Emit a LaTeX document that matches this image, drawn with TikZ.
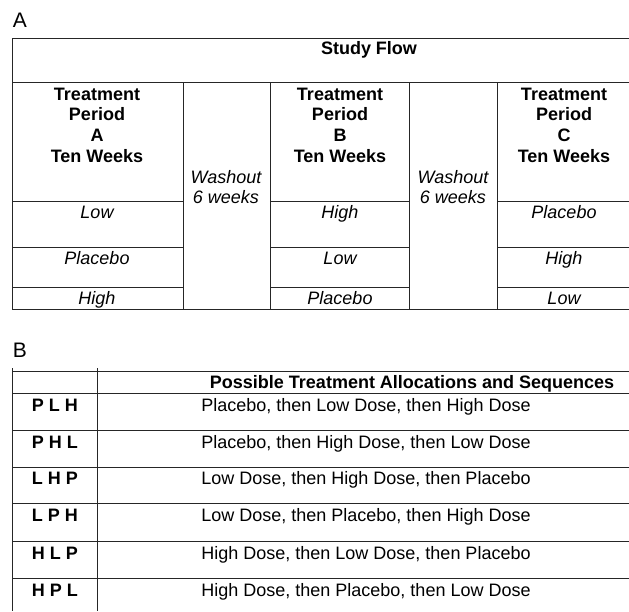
\documentclass[tikz,border=0pt]{standalone}
\usepackage{fontspec}
\setmainfont{Liberation Sans}
\begin{document}
\begin{tikzpicture}[x=1pt,y=-1pt]
\tikzset{rule/.style = {line width=1pt,black!85}}
\tikzset{txt/.style = {inner sep=0pt,align=center,font=\fontsize{18}{20.7}\selectfont}}
\tikzset{one/.style = {text height=15pt,text depth=2pt}}
\tikzset{head/.style = {txt,font=\fontsize{18}{20.7}\selectfont\bfseries}}
\tikzset{dose/.style = {txt,font=\fontsize{18}{20.7}\selectfont\itshape}}
\useasboundingbox (0,0) rectangle (629,611);
% panel A
\node[txt,one,font=\fontsize{21}{24}\selectfont](lbla) at (20, 21) {A};
\draw[rule] (12,38) -- (629,38) (12,82) -- (629,82) (12,309) -- (629,309);
\draw[rule] (12,38) -- (12,309);
\draw[rule] (183,82) -- (183,309) (270,82) -- (270,309);
\draw[rule] (409,82) -- (409,309) (497,82) -- (497,309);
\draw[rule] (12,201) -- (183,201) (12,247) -- (183,247) (12,287) -- (183,287);
\draw[rule] (270,201) -- (409,201) (270,247) -- (409,247) (270,287) -- (409,287);
\draw[rule] (497,201) -- (629,201) (497,247) -- (629,247) (497,287) -- (629,287);
\node[head,one](flow) at (369, 48) {Study Flow};
\node[head](pera) at (97, 125) {Treatment\\Period\\A\\Ten Weeks};
\node[head](perb) at (340, 125) {Treatment\\Period\\B\\Ten Weeks};
\node[head](perc) at (564, 125) {Treatment\\Period\\C\\Ten Weeks};
\node[dose](washa) at (226, 187) {Washout\\6 weeks};
\node[dose](washb) at (453, 187) {Washout\\6 weeks};
\node[dose,one](alow) at (97, 212) {Low};
\node[dose,one](aplac) at (97, 258) {Placebo};
\node[dose,one](ahigh) at (97, 298) {High};
\node[dose,one](bhigh) at (340, 212) {High};
\node[dose,one](blow) at (340, 258) {Low};
\node[dose,one](bplac) at (340, 298) {Placebo};
\node[dose,one](cplac) at (564, 212) {Placebo};
\node[dose,one](chigh) at (564, 258) {High};
\node[dose,one](clow) at (564, 298) {Low};
% panel B
\node[txt,one,font=\fontsize{21}{24}\selectfont](lblb) at (20, 351) {B};
\draw[rule] (12,368) -- (12,611) (97,368) -- (97,611);
\draw[rule] (12,371) -- (629,371) (12,393) -- (629,393);
\draw[rule] (12,430) -- (629,430) (12,467) -- (629,467) (12,503) -- (629,503);
\draw[rule] (12,541) -- (629,541) (12,578) -- (629,578);
\node[head,one](alloc) at (412, 382) {Possible Treatment Allocations and Sequences};
\node[head,one](plh) at (55, 405) {P L H};
\node[head,one](phl) at (55, 442) {P H L};
\node[head,one](lhp) at (55, 478) {L H P};
\node[head,one](lph) at (55, 515) {L P H};
\node[head,one](hlp) at (55, 553) {H L P};
\node[head,one](hpl) at (55, 590) {H P L};
\node[txt,one](dplh) at (366, 405) {Placebo, then Low Dose, then High Dose};
\node[txt,one](dphl) at (366, 442) {Placebo, then High Dose, then Low Dose};
\node[txt,one](dlhp) at (366, 478) {Low Dose, then High Dose, then Placebo};
\node[txt,one](dlph) at (366, 515) {Low Dose, then Placebo, then High Dose};
\node[txt,one](dhlp) at (366, 553) {High Dose, then Low Dose, then Placebo};
\node[txt,one](dhpl) at (366, 590) {High Dose, then Placebo, then Low Dose};
\end{tikzpicture}
\end{document}
